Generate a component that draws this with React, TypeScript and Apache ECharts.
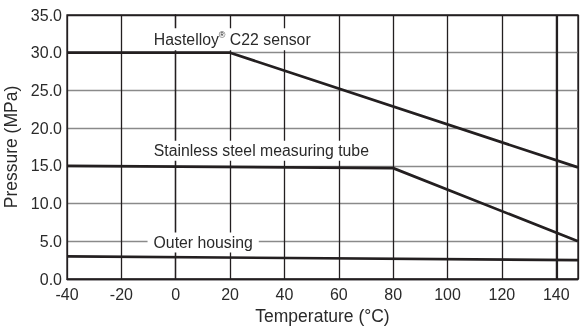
import React, { useEffect, useRef } from "react";
import * as echarts from "echarts";

const hastelloy: [number, number][] = [[-40, 30], [20, 30], [148, 14.8]];
const stainless: [number, number][] = [[-40, 15], [80, 14.7], [148, 5.0]];
const outerHousing: [number, number][] = [[-40, 3.0], [148, 2.5]];

const labelHastelloy: [number, number] = [20.8, 31.8];
const labelStainless: [number, number] = [31.5, 17.0];
const labelOuter: [number, number] = [10.1, 4.85];

const FONT = "Liberation Sans, Arial, Helvetica, sans-serif";
const INK = "#231f20";
const TEXT = "#2a2a2a";

export default function App() {
  const ref = useRef<HTMLDivElement>(null);
  useEffect(() => {
    if (!ref.current) return;
    const chart = echarts.init(ref.current, undefined, { renderer: "svg" });
    const mkLabel = (coord: [number, number], text: string) => ({
      coord,
      symbol: "rect",
      symbolSize: 0,
      label: {
        show: true,
        position: "inside",
        formatter: text,
        color: TEXT,
        fontFamily: FONT,
        fontSize: 15.8,
        backgroundColor: "#fff",
        padding: [2, 6, 2, 6],
        rich: {
          sup: { fontSize: 9, fontFamily: FONT, color: TEXT, padding: [0, 0, 9, 0] },
        },
      },
    });
    const lineStyle = { color: INK, width: 2.7 };
    chart.setOption({
      animation: false,
      textStyle: { fontFamily: FONT },
      grid: {
        left: 67,
        right: 3,
        top: 15,
        bottom: 52,
        show: true,
        borderColor: INK,
        borderWidth: 1.3,
        outerBoundsMode: "none",
        containLabel: false,
      },
      xAxis: {
        type: "value",
        min: -40,
        max: 148,
        interval: 20,
        name: "Temperature (°C)",
        nameLocation: "middle",
        nameGap: 27,
        nameTextStyle: { fontSize: 17.5, color: TEXT, fontFamily: FONT },
        axisLine: { show: true, lineStyle: { color: INK, width: 1.3 } },
        axisTick: { show: false },
        axisLabel: { color: TEXT, fontSize: 16, fontFamily: FONT, margin: 7, showMaxLabel: false },
        splitLine: { show: true, lineStyle: { color: INK, width: 1.3 } },
      },
      yAxis: {
        type: "value",
        min: 0,
        max: 35,
        interval: 5,
        name: "Pressure (MPa)",
        nameLocation: "middle",
        nameGap: 42,
        nameTextStyle: { fontSize: 17.5, color: TEXT, fontFamily: FONT },
        axisLine: { show: true, lineStyle: { color: INK, width: 1.3 } },
        axisTick: { show: false },
        axisLabel: { color: TEXT, fontSize: 16, fontFamily: FONT, margin: 5, formatter: (v: number) => v.toFixed(1) },
        splitLine: {
          show: true,
          lineStyle: { color: [INK, "#8a8a8a", "#8a8a8a", "#8a8a8a", "#8a8a8a", "#8a8a8a", "#8a8a8a", INK], width: 1.3 },
        },
      },
      series: [
        {
          type: "line",
          data: outerHousing,
          symbol: "none",
          lineStyle,
          z: 3,
          markPoint: { data: [mkLabel(labelOuter, "Outer housing")], z: 5 },
          markLine: {
            silent: true,
            symbol: "none",
            label: { show: false },
            lineStyle: { color: INK, width: 2.2, type: "solid" },
            data: [{ xAxis: 140 }],
            z: 2,
          },
        },
        {
          type: "line",
          data: stainless,
          symbol: "none",
          lineStyle,
          z: 3,
          markPoint: { data: [mkLabel(labelStainless, "Stainless steel measuring tube")], z: 5 },
        },
        {
          type: "line",
          data: hastelloy,
          symbol: "none",
          lineStyle,
          z: 3,
          markPoint: { data: [mkLabel(labelHastelloy, "Hastelloy{sup|®} C22 sensor")], z: 5 },
        },
      ],
    });
    return () => chart.dispose();
  }, []);
  return <div ref={ref} style={{ position: "fixed", left: 0, top: 0, width: 581, height: 331 }} />;
}
